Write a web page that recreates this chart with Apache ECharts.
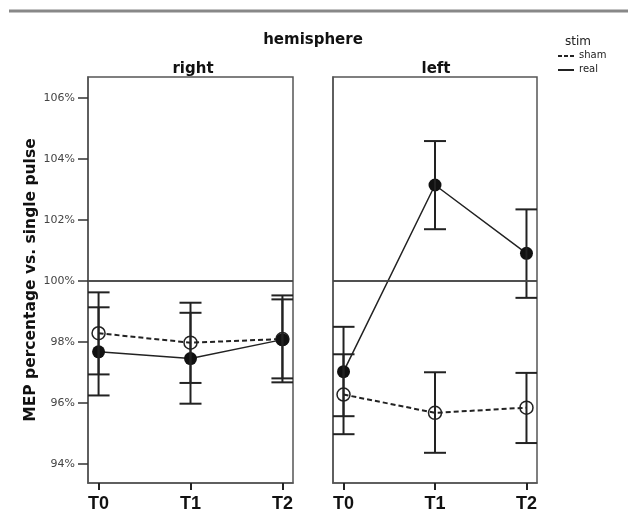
<!DOCTYPE html>
<html>
<head>
<meta charset="utf-8">
<script src="https://cdn.jsdelivr.net/npm/echarts@6/dist/echarts.min.js"></script>
<style>
  html, body { margin: 0; padding: 0; background: #fff; }
  #chart { width: 628px; height: 527px; }
</style>
</head>
<body>
<div id="chart"></div>
<script>
  // 数据
  const categories = ['T0', 'T1', 'T2']
  const yTicks = [94, 96, 98, 100, 102, 104, 106]

  const rightReal = [97.68, 97.46, 98.08]
  const rightRealLow = [96.25, 95.98, 96.68]
  const rightRealHigh = [99.14, 98.96, 99.53]
  const rightSham = [98.29, 97.98, 98.1]
  const rightShamLow = [96.94, 96.66, 96.81]
  const rightShamHigh = [99.63, 99.29, 99.4]

  const leftReal = [97.03, 103.15, 100.91]
  const leftRealLow = [95.57, 101.7, 99.45]
  const leftRealHigh = [98.5, 104.59, 102.35]
  const leftSham = [96.28, 95.68, 95.85]
  const leftShamLow = [94.98, 94.37, 94.69]
  const leftShamHigh = [97.6, 97.01, 96.99]

  const ink = '#222'
  const frame = '#555'
  const font = 'DejaVu Sans, sans-serif'

  function pts(vals) {
    return vals.map((v, i) => [i, v])
  }
  function bars(low, high) {
    return low.map((v, i) => [i, v, high[i]])
  }

  // 误差线
  function renderBar(params, api) {
    const x = api.value(0)
    const lo = api.coord([x, api.value(1)])
    const hi = api.coord([x, api.value(2)])
    const w = 11
    const style = { stroke: ink, lineWidth: 2 }
    return {
      type: 'group',
      children: [
        { type: 'line', shape: { x1: lo[0], y1: lo[1], x2: hi[0], y2: hi[1] }, style },
        { type: 'line', shape: { x1: lo[0] - w, y1: lo[1], x2: lo[0] + w, y2: lo[1] }, style },
        { type: 'line', shape: { x1: hi[0] - w, y1: hi[1], x2: hi[0] + w, y2: hi[1] }, style },
      ],
    }
  }

  function lineSeries(name, vals, idx, dashed) {
    return {
      name: name,
      type: 'line',
      xAxisIndex: idx,
      yAxisIndex: idx,
      data: pts(vals),
      symbol: 'circle',
      symbolSize: 13,
      z: 3,
      lineStyle: dashed
        ? { color: ink, width: 2, type: [5, 3] }
        : { color: ink, width: 1.5 },
      itemStyle: dashed
        ? { color: 'rgba(0,0,0,0)', borderColor: ink, borderWidth: 1.5 }
        : { color: '#111' },
      emphasis: { disabled: true },
      markLine: {
        silent: true,
        symbol: 'none',
        label: { show: false },
        lineStyle: { color: '#444', width: 1.5, type: 'solid' },
        data: [{ yAxis: 100 }],
      },
    }
  }

  function barSeries(name, low, high, idx) {
    return {
      name: name,
      type: 'custom',
      xAxisIndex: idx,
      yAxisIndex: idx,
      clip: true,
      z: 4,
      renderItem: renderBar,
      data: bars(low, high),
      silent: true,
    }
  }

  function xAxis(idx) {
    return {
      type: 'value',
      gridIndex: idx,
      min: -0.115,
      max: 2.115,
      splitLine: { show: false },
      axisLine: { show: true, onZero: false, lineStyle: { color: frame, width: 1.5 } },
      axisTick: { show: true, inside: false, customValues: [0, 1, 2], length: 7, lineStyle: { color: ink, width: 2 } },
      axisLabel: {
        customValues: [0, 1, 2],
        formatter: (v) => categories[v],
        color: '#111',
        fontWeight: 'bold',
        fontSize: 18,
        fontFamily: 'Liberation Sans, sans-serif',
        margin: 12,
      },
    }
  }

  function yAxis(idx) {
    const shown = idx === 0
    return {
      type: 'value',
      gridIndex: idx,
      min: 93.38,
      max: 106.69,
      splitLine: { show: false },
      axisLine: { show: true, onZero: false, lineStyle: { color: frame, width: 1.5 } },
      axisTick: { show: shown, inside: false, customValues: yTicks, length: 10, lineStyle: { color: '#333', width: 1.5 } },
      axisLabel: {
        show: shown,
        customValues: yTicks,
        formatter: (v) => v + '%',
        color: '#444',
        fontSize: 11,
        fontFamily: font,
        margin: 13,
      },
      name: shown ? 'MEP percentage vs. single pulse' : '',
      nameLocation: 'middle',
      nameRotate: 90,
      nameGap: 49,
      nameTextStyle: { color: '#111', fontWeight: 'bold', fontSize: 15.5, fontFamily: font },
    }
  }

  // 图例 stim
  const legendItems = [
    { name: 'sham', dash: [4, 2], y: 56 },
    { name: 'real', dash: null, y: 70 },
  ]
  const legendGraphic = [
    { type: 'text', left: 565, top: 36, style: { text: 'stim', fill: '#222', font: '12px ' + font } },
  ]
  legendItems.forEach((it) => {
    legendGraphic.push({
      type: 'line',
      shape: { x1: 558, y1: it.y, x2: 574, y2: it.y },
      style: { stroke: ink, lineWidth: 2, lineDash: it.dash },
    })
    legendGraphic.push({
      type: 'text',
      left: 579,
      top: it.y - 6,
      style: { text: it.name, fill: '#222', font: '10px ' + font },
    })
  })

  const chart = echarts.init(document.getElementById('chart'))
  const option = {
    backgroundColor: '#fff',
    animation: false,
    title: [
      { text: 'hemisphere', left: 308, top: 28, textAlign: 'center',
        textStyle: { fontSize: 15, fontWeight: 'bold', color: '#111', fontFamily: font } },
      { text: 'right', left: 188, top: 57, textAlign: 'center',
        textStyle: { fontSize: 15, fontWeight: 'bold', color: '#111', fontFamily: font } },
      { text: 'left', left: 431, top: 57, textAlign: 'center',
        textStyle: { fontSize: 15, fontWeight: 'bold', color: '#111', fontFamily: font } },
    ],
    grid: [
      { left: 88, top: 77, width: 205, height: 406, show: true, borderColor: frame, borderWidth: 1.5 },
      { left: 333, top: 77, width: 204, height: 406, show: true, borderColor: frame, borderWidth: 1.5 },
    ],
    xAxis: [xAxis(0), xAxis(1)],
    yAxis: [yAxis(0), yAxis(1)],
    graphic: [
      { type: 'line', shape: { x1: 9, y1: 11, x2: 628, y2: 11 }, style: { stroke: '#888', lineWidth: 3 } },
    ].concat(legendGraphic),
    series: [
      lineSeries('sham', rightSham, 0, true),
      lineSeries('real', rightReal, 0, false),
      barSeries('shamErr', rightShamLow, rightShamHigh, 0),
      barSeries('realErr', rightRealLow, rightRealHigh, 0),
      lineSeries('sham', leftSham, 1, true),
      lineSeries('real', leftReal, 1, false),
      barSeries('shamErr', leftShamLow, leftShamHigh, 1),
      barSeries('realErr', leftRealLow, leftRealHigh, 1),
    ],
  }
  chart.setOption(option)
</script>
</body>
</html>
